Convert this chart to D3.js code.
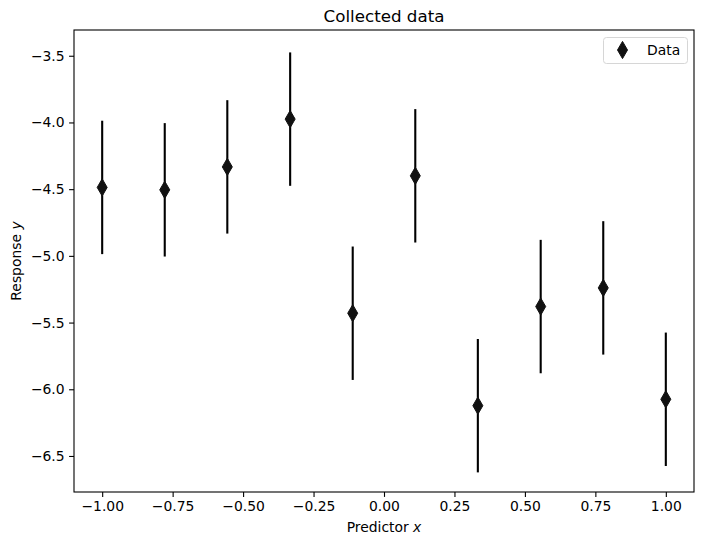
<!DOCTYPE html>
<html>
<head>
<meta charset="utf-8">
<script src="https://cdn.jsdelivr.net/npm/d3@7"></script>
<style>
  body { margin: 0; background: #fff; }
  text { font-family: "DejaVu Sans", sans-serif; fill: #000; }
  .tick line { stroke: #000; stroke-width: 1.1; }
  .domain { display: none; }
</style>
</head>
<body>
<script>
// data
const xs = [-1.0, -0.778, -0.556, -0.333, -0.111, 0.111, 0.333, 0.556, 0.778, 1.0];
const ys = [-4.487, -4.505, -4.333, -3.975, -5.43, -4.40, -6.123, -5.38, -5.24, -6.075];
const yerr = [0.5, 0.5, 0.5, 0.5, 0.5, 0.5, 0.5, 0.5, 0.5, 0.5];
const xTicks = [-1.0, -0.75, -0.5, -0.25, 0.0, 0.25, 0.5, 0.75, 1.0];
const yTicks = [-3.5, -4.0, -4.5, -5.0, -5.5, -6.0, -6.5];

const dataset = xs.map((x, i) => ({x: x, y: ys[i], e: yerr[i]}));

const w = 703, h = 546;
const mLeft = 74, mRight = 694, mTop = 30, mBottom = 492; // plot area edges

const svg = d3.select("body").append("svg")
  .attr("width", w)
  .attr("height", h);

const x = d3.scaleLinear().domain([-1.1, 1.1]).range([mLeft, mRight]);
const y = d3.scaleLinear().domain([-6.77, -3.307]).range([mBottom, mTop]);

const minus = s => s.replace("-", "\u2212");

// axes
svg.append("g")
  .attr("transform", "translate(0," + mBottom + ")")
  .call(d3.axisBottom(x).tickValues(xTicks).tickSize(4.9).tickPadding(4.5)
    .tickFormat(d => minus(d3.format(".2f")(d))))
  .selectAll("text").style("font-size", "13.9px");

svg.append("g")
  .attr("transform", "translate(" + mLeft + ",0)")
  .call(d3.axisLeft(y).tickValues(yTicks).tickSize(4.9).tickPadding(4.5)
    .tickFormat(d => minus(d3.format(".1f")(d))))
  .selectAll("text").style("font-size", "13.9px");

// frame
svg.append("rect")
  .attr("x", mLeft).attr("y", mTop)
  .attr("width", mRight - mLeft).attr("height", mBottom - mTop)
  .attr("fill", "none").attr("stroke", "#000").attr("stroke-width", 1.1);

// error bars
svg.selectAll(".err")
  .data(dataset)
  .enter()
  .append("line")
  .attr("class", "err")
  .attr("x1", d => x(d.x)).attr("x2", d => x(d.x))
  .attr("y1", d => y(d.y - d.e)).attr("y2", d => y(d.y + d.e))
  .attr("stroke", "#000")
  .attr("stroke-width", 2.1);

// thin diamond markers
const dia = "M0,-8.6L5,0L0,8.6L-5,0Z";
svg.selectAll(".pt")
  .data(dataset)
  .enter()
  .append("path")
  .attr("class", "pt")
  .attr("d", dia)
  .attr("transform", d => "translate(" + x(d.x) + "," + y(d.y) + ")")
  .attr("fill", "#111")
  .attr("stroke", "#111")
  .attr("stroke-width", 1);

// title and labels
svg.append("text")
  .attr("x", (mLeft + mRight) / 2).attr("y", 21.5)
  .attr("text-anchor", "middle")
  .style("font-size", "16.7px")
  .text("Collected data");

const xl = svg.append("text")
  .attr("x", (mLeft + mRight) / 2).attr("y", 532)
  .attr("text-anchor", "middle")
  .style("font-size", "13.9px");
xl.append("tspan").text("Predictor ");
xl.append("tspan").style("font-style", "italic").text("x");

const yl = svg.append("text")
  .attr("transform", "translate(21," + (mTop + mBottom) / 2 + ") rotate(-90)")
  .attr("text-anchor", "middle")
  .style("font-size", "13.9px");
yl.append("tspan").text("Response ");
yl.append("tspan").style("font-style", "italic").text("y");

// legend
const lg = svg.append("g");
lg.append("rect")
  .attr("x", 603.5).attr("y", 37.5)
  .attr("width", 84).attr("height", 26)
  .attr("rx", 3)
  .attr("fill", "#fff").attr("fill-opacity", 0.8)
  .attr("stroke", "#d6d6d6").attr("stroke-width", 1);
lg.append("path")
  .attr("d", dia)
  .attr("transform", "translate(622.5,50)")
  .attr("fill", "#111").attr("stroke", "#111").attr("stroke-width", 1);
lg.append("text")
  .attr("x", 647).attr("y", 55)
  .style("font-size", "13.9px")
  .text("Data");
</script>
</body>
</html>
